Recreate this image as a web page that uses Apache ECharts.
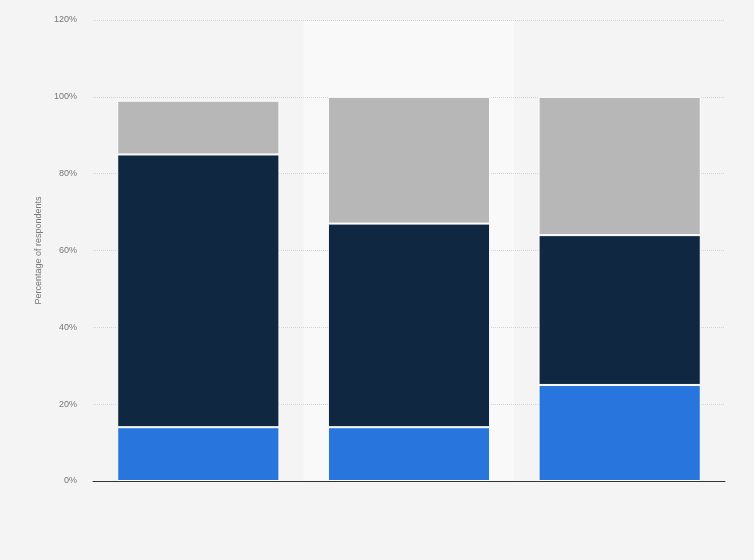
<!DOCTYPE html>
<html>
<head>
<meta charset="utf-8">
<script src="https://cdn.jsdelivr.net/npm/echarts@6/dist/echarts.min.js"></script>
<style>html,body{margin:0;padding:0;background:#f4f4f4}#c{width:754px;height:560px}</style>
</head>
<body>
<div id="c"></div>
<script>
var categories = ['A', 'B', 'C'];
var blueValues = [14, 14, 25];
var navyValues = [71, 53, 39];
var grayValues = [14, 33, 36];
var highlightValues = [null, 120, null];
var yTicks = [0, 20, 40, 60, 80, 100, 120];

var chart = echarts.init(document.getElementById('c'));
var font = 'Liberation Sans, Arial, sans-serif';
chart.setOption({
  backgroundColor: '#f4f4f4',
  animation: false,
  grid: { left: 93, right: 29, top: 20, bottom: 79 },
  xAxis: [{
    type: 'category', data: categories,
    axisLine: { lineStyle: { color: '#333', width: 1 } },
    axisTick: { show: false }, axisLabel: { show: false }
  }, {
    type: 'category', data: categories, show: false
  }],
  yAxis: {
    type: 'value', min: yTicks[0], max: yTicks[yTicks.length - 1], interval: 20,
    name: 'Percentage of respondents', nameLocation: 'middle', nameGap: 50,
    nameTextStyle: { color: '#777', fontSize: 9, fontFamily: font },
    axisLine: { show: false }, axisTick: { show: false },
    axisLabel: { color: '#777', fontSize: 9, fontFamily: font, margin: 16, padding: [3, 0, 0, 0], formatter: '{value}%' },
    splitLine: { lineStyle: { color: '#d4d4d4', type: [1, 1], width: 1 } }
  },
  series: [
    { type: 'bar', xAxisIndex: 1, data: highlightValues, barWidth: '100%', z: -1, silent: true,
      itemStyle: { color: '#f9f9f9' } },
    { type: 'bar', stack: 's', data: blueValues, barWidth: '77%',
      itemStyle: { color: '#2876dd', borderColor: '#fff', borderWidth: 1 } },
    { type: 'bar', stack: 's', data: navyValues,
      itemStyle: { color: '#0f2740', borderColor: '#fff', borderWidth: 1 } },
    { type: 'bar', stack: 's', data: grayValues,
      itemStyle: { color: '#b7b7b7', borderColor: '#fff', borderWidth: 1 } }
  ]
});
</script>
</body>
</html>
